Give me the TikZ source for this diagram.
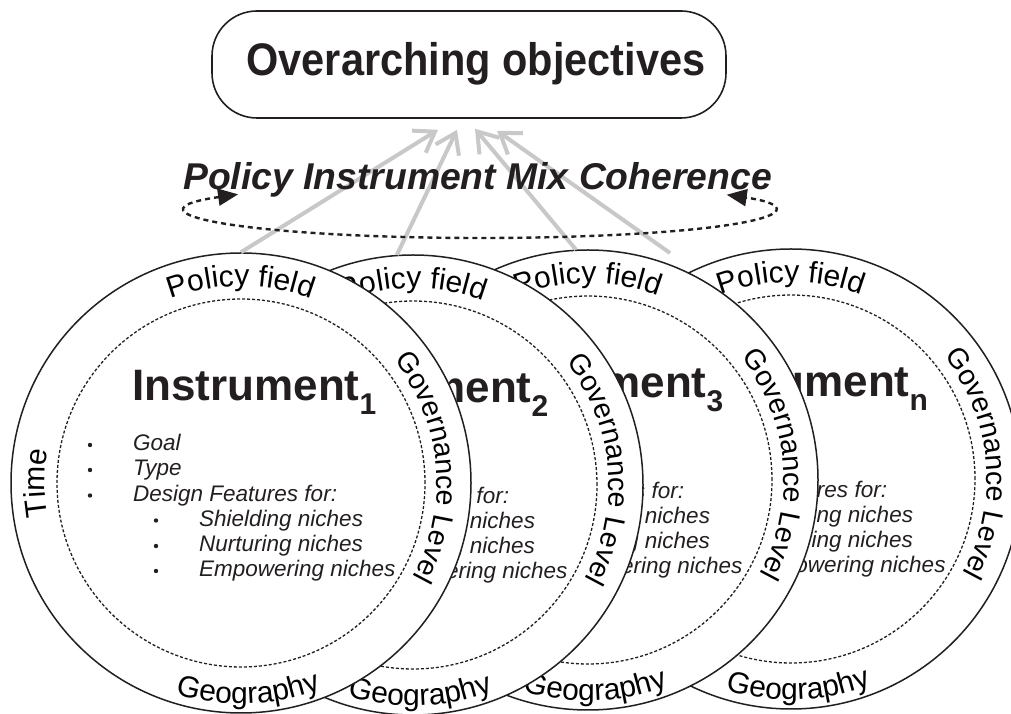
\documentclass[tikz,border=0pt]{standalone}
\usepackage{fontspec}
\setmainfont{Liberation Sans}
\usetikzlibrary{arrows.meta,decorations.text}

\definecolor{ink}{RGB}{35,31,32}
\definecolor{arrowgray}{RGB}{200,200,200}

\newcommand\ringfont{\fontsize{30}{32}\selectfont}
\newcommand\sideringfont{\fontsize{28.5}{30}\selectfont}
\newcommand\instrfont{\fontsize{44}{46}\selectfont\bfseries}
\newcommand\idxfont{\fontsize{30}{32}\selectfont\bfseries}
\newcommand\listfont{\fontsize{22.5}{24}\selectfont\itshape}

\tikzset{
  disc/.style={circle, minimum size=460pt, inner sep=0pt, draw=ink, fill=white, line width=1.5pt},
  core/.style={circle, minimum size=368pt, inner sep=0pt, draw=ink, line width=1.3pt, dash pattern=on 3pt off 2pt},
  listitem/.style={anchor=base west, inner sep=0pt, font=\listfont, text=ink},
  flow/.style={draw=arrowgray, line width=4pt, -{Straight Barb[length=19pt, width=26pt]}},
  loopline/.style={draw=ink, line width=2.4pt, dash pattern=on 5pt off 4pt,
    {Triangle[length=20pt, width=17pt]}-{Triangle[length=20pt, width=17pt]}},
  ringtext/.style={decorate, decoration={text along path, text align=center, text={|\ringfont|#1}}},
  sideringtext/.style={decorate, decoration={text along path, text align=center, text={|\sideringfont|#1}}}
}

% One instrument disc: #1 name, #2 x, #3 y, #4 index
\newcommand\instrdisc[4]{%
  \node[disc] (#1) at (#2,#3) {};
  \node[core] (#1-core) at (#2,#3) {};
  \begin{scope}[shift={(#2,#3)}]
    \path[ringtext=Policy field] (130:197) arc[start angle=130, end angle=50, radius=197];
    \path[sideringtext=Governance Level] (50:196) arc[start angle=50, end angle=-40, radius=196];
    \path[ringtext=Time] (200:196) arc[start angle=200, end angle=160, radius=196];
    \path[ringtext=Geography] (-128:221) arc[start angle=-128, end angle=-48, radius=221];
    \node[anchor=base west, inner sep=0pt, text=ink] (#1-title) at (-109,82)
      {\instrfont Instrument\raisebox{-14pt}{\idxfont #4}};
    \node[listitem] (#1-goal) at (-108,32) {Goal};
    \node[listitem] (#1-type) at (-108,7) {Type};
    \node[listitem] (#1-design) at (-108,-18.5) {Design Features for:};
    \node[listitem] (#1-shield) at (-42,-43.5) {Shielding niches};
    \node[listitem] (#1-nurture) at (-42,-69) {Nurturing niches};
    \node[listitem] (#1-empower) at (-42,-94) {Empowering niches};
    \foreach \yy in {32,7,-18.5} \fill[ink] (-151,\yy+6) circle (2.2pt);
    \foreach \yy in {-43.5,-69,-94} \fill[ink] (-85,\yy+6) circle (2.2pt);
  \end{scope}
}

\begin{document}
\begin{tikzpicture}[x=1pt, y=1pt, color=ink]
\useasboundingbox (0,0) rectangle (1011,714);

% overarching objectives box
\node[draw=ink, line width=1.6pt, rounded corners=45pt, minimum width=514pt,
      minimum height=107pt, inner sep=0pt] (obj) at (469,649.5) {};
\node[anchor=base, inner sep=0pt, font=\fontsize{41.5}{44}\selectfont\bfseries, text=ink]
  (objtext) at (476,638) {\scalebox{1}[1.1]{Overarching objectives}};

% instrument discs, back to front
\instrdisc{cn}{791}{235}{n}
\instrdisc{c3}{588}{234}{3}
\instrdisc{c2}{413}{229}{2}
\instrdisc{c1}{241}{231}{1}

% contributions to the overarching objectives
\coordinate (t1) at ([shift={(-31,-11)}]obj.south);
\coordinate (t2) at ([shift={(-12,-11)}]obj.south);
\coordinate (t3) at ([shift={(6,-10)}]obj.south);
\coordinate (t4) at ([shift={(28,-12)}]obj.south);
\coordinate (a4) at (670,461);
\draw[flow] (c1.north) -- (t1);
\draw[flow] (c2.94) -- (t2);
\draw[flow] (c3.93) -- (t3);
\draw[flow] (a4) -- (t4);

% coherence loop and its label
\coordinate (loop) at (481,504);
\draw[loopline] ([shift={(146:293 and 28)}]loop)
  arc[start angle=146, end angle=393, x radius=293, y radius=28];
\node[anchor=base, inner sep=0pt, font=\fontsize{37.3}{39}\selectfont\bfseries\itshape, text=ink]
  (coh) at (477.5,524) {Policy Instrument Mix Coherence};
\end{tikzpicture}
\end{document}
